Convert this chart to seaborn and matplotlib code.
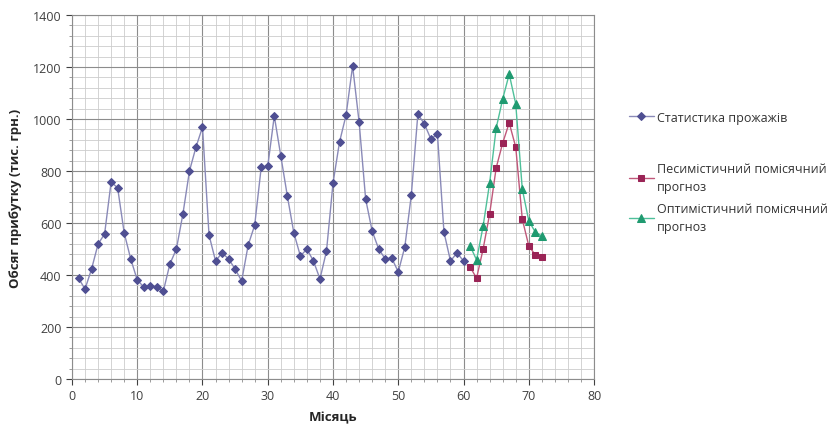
import pandas as pd
import seaborn as sns
import matplotlib.pyplot as plt
from matplotlib.ticker import MultipleLocator

# Monthly sales statistics and two forecast scenarios
stat_months = list(range(1, 61))
stat_values = [388, 346, 423, 519, 558, 758, 735, 562, 462, 381,
               354, 358, 354, 338, 442, 500, 635, 800, 892, 969,
               554, 454, 485, 462, 423, 377, 515, 592, 815, 819,
               1012, 858, 704, 562, 473, 500, 454, 385, 492, 754,
               912, 1015, 1204, 988, 692, 569, 500, 462, 465, 412,
               508, 708, 1019, 981, 923, 942, 565, 454, 485, 454]

fc_months = list(range(61, 73))
pess_values = [431, 388, 500, 635, 812, 908, 985, 892, 615, 512, 477, 469]
opt_values = [512, 458, 588, 754, 965, 1077, 1173, 1058, 731, 608, 565, 550]

labels = ["Статистика прожажів",
          "Песимістичний помісячний\nпрогноз",
          "Оптимістичний помісячний\nпрогноз"]

sns.set_style("white")
plt.rcParams["font.family"] = ["Open Sans", "DejaVu Sans"]

fig = plt.figure(figsize=(8.34, 4.39), dpi=100)
ax = fig.add_axes([0.0863, 0.1344, 0.626, 0.829])

sns.lineplot(x=stat_months, y=stat_values, ax=ax, color="#8a8ab8", lw=1,
             marker="D", markersize=4.2, markerfacecolor="#4f4f92",
             markeredgecolor="#4f4f92", label=labels[0])
sns.lineplot(x=fc_months, y=pess_values, ax=ax, color="#c0587a", lw=1,
             marker="s", markersize=5, markerfacecolor="#9a2456",
             markeredgecolor="#9a2456", label=labels[1])
sns.lineplot(x=fc_months, y=opt_values, ax=ax, color="#4fc09a", lw=1,
             marker="^", markersize=5.5, markerfacecolor="#1f9a70",
             markeredgecolor="#1f9a70", label=labels[2])

ax.set_xlim(0, 80)
ax.set_ylim(0, 1400)
ax.xaxis.set_major_locator(MultipleLocator(10))
ax.xaxis.set_minor_locator(MultipleLocator(2))
ax.yaxis.set_major_locator(MultipleLocator(200))
ax.yaxis.set_minor_locator(MultipleLocator(40))
ax.grid(which="major", color="#8c8c8c", lw=0.8)
ax.grid(which="minor", color="#cccccc", lw=0.6)
ax.set_axisbelow(True)
for s in ax.spines.values():
    s.set_color("#8c8c8c")
    s.set_linewidth(0.8)
ax.tick_params(axis="both", which="major", labelsize=9, colors="#404040",
               length=4, direction="out", left=True, bottom=True)
ax.tick_params(axis="both", which="minor", length=2, direction="out",
               left=True, bottom=True, color="#8c8c8c")

ax.set_xlabel("Місяць", fontsize=9.5, fontweight="bold", color="#262626", labelpad=6)
ax.set_ylabel("Обсяг прибутку (тис. грн.)", fontsize=9.5, fontweight="bold",
              color="#262626", labelpad=8)

# Legend: first entry alone, forecasts grouped lower (like the original layout)
handles, lbls = ax.get_legend_handles_labels()
ax.legend_.remove()
leg_kw = dict(loc="center left", frameon=False, fontsize=9, handlelength=2.0,
              handletextpad=0.25, labelcolor="#333333", borderaxespad=0)
fig.legend(handles[:1], lbls[:1], bbox_to_anchor=(0.748, 0.731), **leg_kw)
leg2 = fig.legend(handles[1:], lbls[1:], bbox_to_anchor=(0.748, 0.548),
                  labelspacing=0.7, **leg_kw)
for t in leg2.get_texts():
    t.set_linespacing(1.55)

fig.savefig("out.png", dpi=100)
